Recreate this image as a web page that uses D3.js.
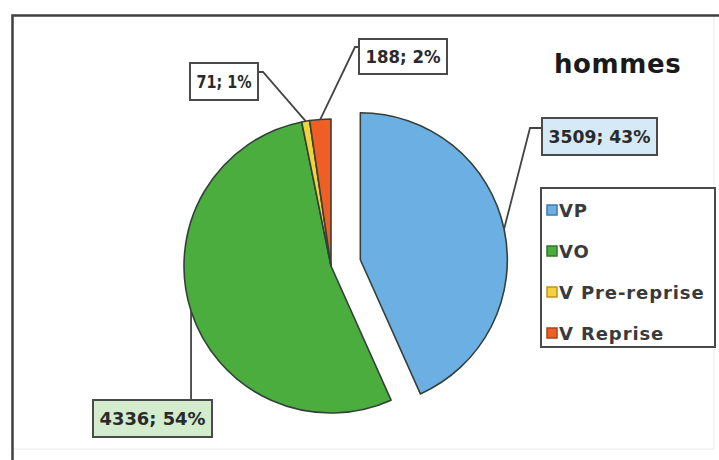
<!DOCTYPE html>
<html>
<head>
<meta charset="utf-8">
<script src="https://cdn.jsdelivr.net/npm/d3@7"></script>
<style>
  html, body { margin: 0; padding: 0; background: #ffffff; }
  svg { display: block; }
</style>
</head>
<body>
<svg id="chart" width="719" height="460"></svg>
<script>
// Sales split for men, by vehicle type
const categories = ["VP", "VO", "V Pre-reprise", "V Reprise"];
const values = [3509, 4336, 71, 188];
const title = "hommes";

const fills   = ["#6cafe2", "#4bad3e", "#f3d23c", "#ef5f25"];
const borders = ["#3d78ad", "#2f7a2a", "#c0902a", "#a8431e"];

const svg = d3.select("#chart");
const total = d3.sum(values);
const pct = v => Math.round(v / total * 100) + "%";

// frame around the plot area
svg.append("rect").attr("x", 12).attr("y", 15).attr("width", 702).attr("height", 434)
  .attr("fill", "#fff").attr("stroke", "#f0f0f0").attr("stroke-width", 1.5);
svg.append("path").attr("d", "M12.5,460 V15.5 H719")
  .attr("fill", "none").attr("stroke", "#404040").attr("stroke-width", 2.5);

// pie
const cx = 331, cy = 266, R = 147, explode = 30;
const pie = d3.pie().sort(null).startAngle(0).endAngle(2 * Math.PI);
const arcs = pie(values);
const arc = d3.arc().innerRadius(0).outerRadius(R);
const mid = d => (d.startAngle + d.endAngle) / 2;
const offset = (d, i) => i === 0 ? explode : 0;
const polar = (a, r) => [Math.sin(a) * r, -Math.cos(a) * r];

const g = svg.append("g").attr("transform", `translate(${cx},${cy})`);
g.selectAll("path.slice").data(arcs).join("path")
  .attr("class", "slice")
  .attr("transform", (d, i) => { const [ox, oy] = polar(mid(d), offset(d, i)); return `translate(${ox},${oy})`; })
  .attr("d", arc)
  .attr("fill", (d, i) => fills[i])
  .attr("stroke", "#34403a").attr("stroke-width", 1.6).attr("stroke-linejoin", "round");

// data label boxes (box in page coordinates, elbow point of the leader)
const labelLayout = [
  { box: [542, 118, 115, 37], bg: "#d6e9f6", elbow: [530, 128], end: [542, 128] },
  { box: [93, 400, 119, 37],  bg: "#d3ecce", elbow: null, end: null },
  { box: [190, 63, 68, 37],   bg: "#ffffff", elbow: [263, 72], end: [258, 72] },
  { box: [359, 39, 88, 35],   bg: "#ffffff", elbow: [355, 47], end: [360, 47] }
];

arcs.forEach((d, i) => {
  const L = labelLayout[i];
  const [ox, oy] = polar(mid(d), offset(d, i));
  const [ax, ay] = polar(mid(d), R);
  const anchor = [cx + ox + ax, cy + oy + ay];
  const pts = L.elbow ? [anchor, L.elbow, L.end] : [anchor, [anchor[0], L.box[1]]];
  svg.append("path").attr("d", d3.line()(pts))
    .attr("fill", "none").attr("stroke", "#444").attr("stroke-width", 1.8);
  const [bx, by, bw, bh] = L.box;
  svg.append("rect").attr("x", bx).attr("y", by).attr("width", bw).attr("height", bh)
    .attr("fill", L.bg).attr("stroke", "#4a4a4a").attr("stroke-width", 2);
  svg.append("text").attr("x", bx + bw / 2).attr("y", by + bh / 2 + 6.5)
    .attr("text-anchor", "middle")
    .attr("font-family", "DejaVu Sans").attr("font-size", 18).attr("font-weight", "bold")
    .attr("fill", "#2a2a2a")
    .attr("textLength", bw - 13).attr("lengthAdjust", "spacingAndGlyphs")
    .text(values[i] + "; " + pct(values[i]));
});

// title
svg.append("text").attr("x", 554).attr("y", 73)
  .attr("font-family", "DejaVu Sans").attr("font-weight", "bold").attr("font-size", 26)
  .attr("letter-spacing", 0.6)
  .attr("fill", "#1a1a1a").text(title);

// legend
const lg = svg.append("g");
lg.append("rect").attr("x", 541).attr("y", 188).attr("width", 174).attr("height", 159)
  .attr("fill", "#fff").attr("stroke", "#4a4a4a").attr("stroke-width", 2);
const rowY = d3.scalePoint().domain(categories).range([210, 333]);
categories.forEach((c, i) => {
  const y = rowY(c);
  lg.append("rect").attr("x", 547).attr("y", y - 5).attr("width", 10).attr("height", 10)
    .attr("fill", fills[i]).attr("stroke", borders[i]).attr("stroke-width", 1.5);
  lg.append("text").attr("x", 559).attr("y", y + 6.5)
    .attr("font-family", "DejaVu Sans").attr("font-weight", "bold").attr("font-size", 18)
    .attr("letter-spacing", 0.9)
    .attr("fill", "#3a3a3a").text(c);
});
</script>
</body>
</html>
